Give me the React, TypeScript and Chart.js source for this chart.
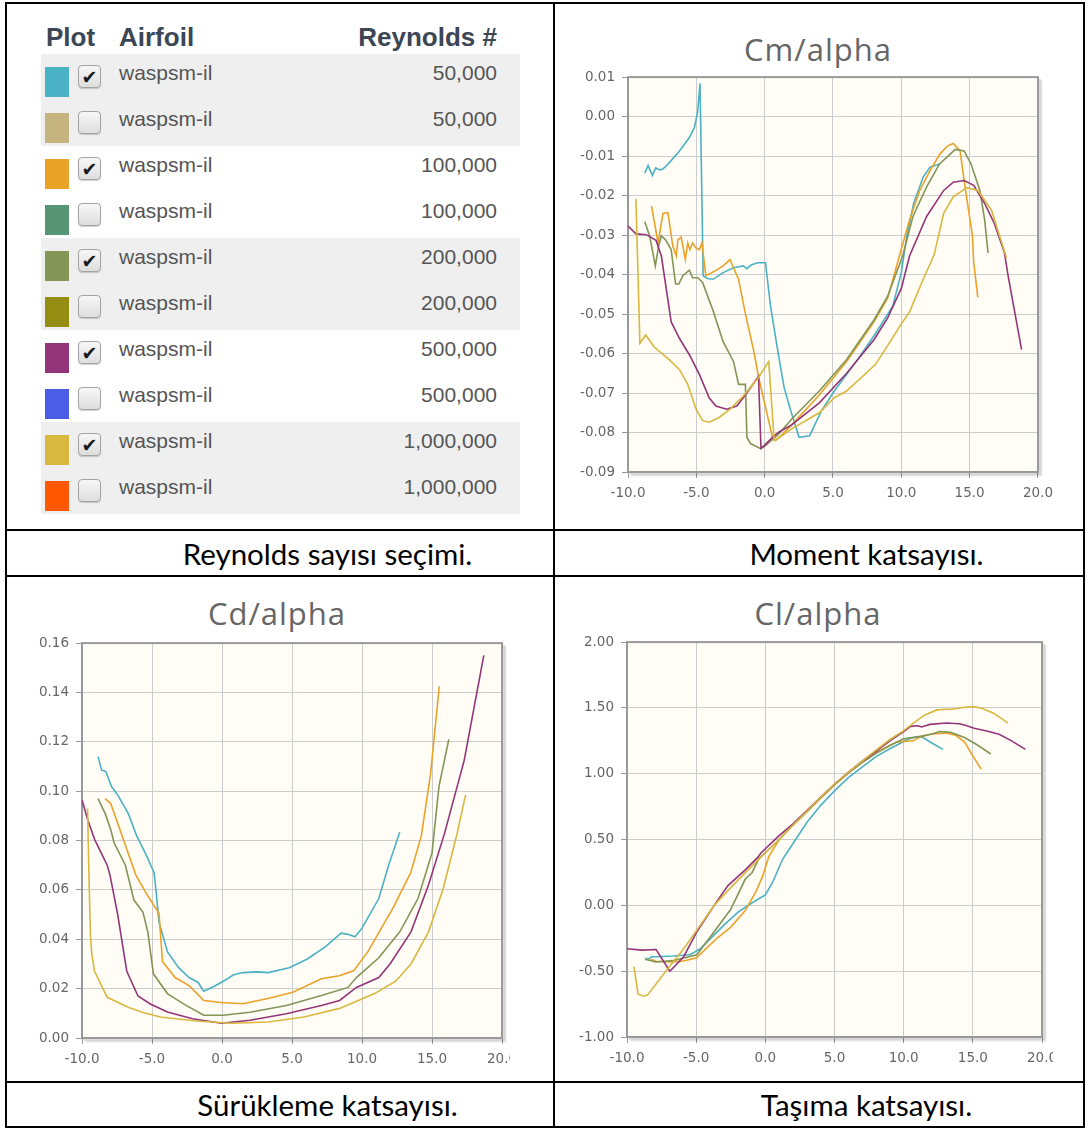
import React, { useEffect, useRef } from 'react';
import { Chart, registerables } from 'chart.js';

Chart.register(...registerables);

// ---------- legend table data ----------
const airfoilNames = ['waspsm-il', 'waspsm-il', 'waspsm-il', 'waspsm-il', 'waspsm-il', 'waspsm-il', 'waspsm-il', 'waspsm-il', 'waspsm-il', 'waspsm-il'];
const reynoldsLabels = ['50,000', '50,000', '100,000', '100,000', '200,000', '200,000', '500,000', '500,000', '1,000,000', '1,000,000'];
const legendColors = ['#4bb2c5', '#c5b47f', '#eaa228', '#579575', '#839557', '#958c12', '#953579', '#4b5de4', '#d8b83f', '#ff5800'];
const plotted = [true, false, true, false, true, false, true, false, true, false];

// ---------- x axis ticks ----------
const alphaMin = -10;
const alphaMax = 20;
const alphaStep = 5;

// ---------- Cm / alpha ----------
const cmRe50k: [number, number][] = [[-8.77, -0.0143], [-8.53, -0.0124], [-8.21, -0.0149], [-7.97, -0.013], [-7.68, -0.0135], [-7.44, -0.0133], [-6.96, -0.0116], [-6.23, -0.0087], [-5.51, -0.0053], [-5.14, -0.0028], [-4.9, 0.0013], [-4.73, 0.0084], [-4.5, -0.0403], [-4.2, -0.041], [-3.77, -0.0412], [-3.04, -0.0395], [-2.28, -0.0383], [-1.56, -0.0378], [-1.3, -0.0385], [-1.0, -0.0376], [-0.5, -0.037], [0.06, -0.037], [0.43, -0.048], [0.93, -0.0587], [1.43, -0.0687], [1.91, -0.0745], [2.52, -0.0812], [3.29, -0.0808], [4.15, -0.0745], [5.1, -0.0695], [6.87, -0.0612], [8.1, -0.055], [9.37, -0.048], [10.0, -0.0395], [10.4, -0.0303], [10.9, -0.022], [11.6, -0.0153], [12.1, -0.0128], [12.8, -0.012]];
const cmRe100k: [number, number][] = [[-8.28, -0.0226], [-7.8, -0.032], [-7.44, -0.0245], [-7.08, -0.0243], [-6.72, -0.0328], [-6.47, -0.0353], [-6.35, -0.0312], [-6.11, -0.0305], [-5.8, -0.0362], [-5.63, -0.032], [-5.46, -0.0337], [-5.27, -0.032], [-5.02, -0.0333], [-4.78, -0.0337], [-4.59, -0.032], [-4.3, -0.0403], [-3.6, -0.039], [-3.04, -0.0378], [-2.54, -0.0362], [-1.91, -0.0412], [-1.41, -0.0499], [-0.79, -0.0595], [-0.43, -0.0662], [0.07, -0.0737], [0.57, -0.0812], [0.81, -0.082], [1.2, -0.0808], [2.0, -0.078], [4.0, -0.0705], [6.0, -0.062], [8.0, -0.052], [9.0, -0.046], [9.86, -0.0353], [10.6, -0.0262], [11.35, -0.0187], [12.1, -0.0137], [12.82, -0.0095], [13.4, -0.0074], [13.8, -0.0068], [14.3, -0.0087], [14.7, -0.0187], [15.2, -0.03], [15.3, -0.037], [15.6, -0.0458]];
const cmRe200k: [number, number][] = [[-8.77, -0.0266], [-8.41, -0.0303], [-8.0, -0.0378], [-7.76, -0.0328], [-7.56, -0.0302], [-7.25, -0.0312], [-6.84, -0.0337], [-6.52, -0.0424], [-6.28, -0.0424], [-5.99, -0.0403], [-5.51, -0.0389], [-5.27, -0.0408], [-4.9, -0.0408], [-4.54, -0.042], [-3.77, -0.0492], [-3.04, -0.057], [-2.28, -0.062], [-1.91, -0.0678], [-1.41, -0.0678], [-1.3, -0.0812], [-1.04, -0.0828], [-0.29, -0.0841], [0.0, -0.0835], [0.5, -0.082], [1.0, -0.0805], [2.0, -0.0765], [4.0, -0.0695], [6.0, -0.0615], [8.0, -0.0515], [9.0, -0.0455], [10.1, -0.0353], [10.85, -0.0253], [11.85, -0.0178], [12.8, -0.012], [13.95, -0.0083], [14.6, -0.0087], [15.1, -0.012], [15.75, -0.0187], [16.1, -0.0262], [16.35, -0.0345]];
const cmRe500k: [number, number][] = [[-10.0, -0.0277], [-9.42, -0.0297], [-8.67, -0.0299], [-7.95, -0.0313], [-7.56, -0.0353], [-6.84, -0.052], [-6.23, -0.0562], [-5.51, -0.0603], [-4.78, -0.0653], [-4.06, -0.0712], [-3.57, -0.0733], [-2.79, -0.0741], [-2.04, -0.0733], [-1.56, -0.0712], [-0.45, -0.0658], [-0.27, -0.084], [0.0, -0.0832], [0.5, -0.0815], [1.0, -0.08], [2.0, -0.078], [4.0, -0.0725], [6.0, -0.065], [8.0, -0.0565], [9.0, -0.051], [10.0, -0.0435], [10.6, -0.0353], [11.85, -0.0253], [13.1, -0.0187], [13.8, -0.0166], [14.6, -0.0162], [15.3, -0.0174], [16.1, -0.022], [16.8, -0.027], [17.55, -0.0345], [17.8, -0.04], [18.3, -0.0495], [18.8, -0.059]];
const cmRe1M: [number, number][] = [[-9.42, -0.0208], [-9.13, -0.0574], [-8.7, -0.0553], [-8.1, -0.0583], [-6.96, -0.0616], [-6.23, -0.0641], [-5.63, -0.0678], [-5.02, -0.0741], [-4.54, -0.077], [-4.06, -0.0774], [-3.33, -0.0762], [-2.5, -0.074], [-1.5, -0.0705], [-0.43, -0.066], [0.3, -0.062], [0.7, -0.082], [1.0, -0.0815], [2.0, -0.079], [4.0, -0.075], [5.1, -0.0712], [6.0, -0.0695], [8.1, -0.0628], [9.0, -0.058], [10.0, -0.0525], [10.6, -0.0495], [11.5, -0.042], [12.4, -0.035], [13.1, -0.0245], [13.8, -0.0203], [14.8, -0.018], [15.6, -0.0187], [16.6, -0.0237], [17.7, -0.0358]];
const cmTicks = { min: -0.09, max: 0.01, step: 0.01, digits: 2 };

// ---------- Cd / alpha ----------
const cdRe50k: [number, number][] = [[-8.85, 0.114], [-8.6, 0.1085], [-8.3, 0.108], [-7.9, 0.102], [-7.4, 0.098], [-6.7, 0.091], [-6.1, 0.082], [-5.4, 0.074], [-4.85, 0.067], [-4.7, 0.059], [-4.5, 0.047], [-3.9, 0.035], [-3.1, 0.0285], [-2.35, 0.0245], [-1.7, 0.0225], [-1.3, 0.019], [-0.55, 0.021], [0.1, 0.023], [0.8, 0.0255], [1.5, 0.0265], [2.5, 0.0268], [3.3, 0.0265], [4.8, 0.0285], [6.1, 0.032], [7.4, 0.037], [8.5, 0.0425], [9.0, 0.042], [9.5, 0.041], [10.0, 0.0445], [11.2, 0.0565], [11.9, 0.07], [12.7, 0.0835]];
const cdRe100k: [number, number][] = [[-8.35, 0.097], [-7.95, 0.095], [-7.05, 0.0805], [-6.15, 0.066], [-5.4, 0.0585], [-4.5, 0.0505], [-4.25, 0.031], [-3.35, 0.0245], [-2.35, 0.0212], [-1.3, 0.0152], [-0.04, 0.0144], [1.49, 0.0139], [3.28, 0.016], [5.06, 0.0185], [7.1, 0.024], [8.38, 0.0252], [9.4, 0.0272], [10.42, 0.035], [12.2, 0.0525], [13.48, 0.067], [14.24, 0.082], [14.9, 0.107], [15.52, 0.1425]];
const cdRe200k: [number, number][] = [[-8.85, 0.097], [-8.35, 0.091], [-7.95, 0.0845], [-7.7, 0.079], [-6.9, 0.07], [-6.3, 0.056], [-5.65, 0.051], [-5.3, 0.043], [-4.9, 0.026], [-3.9, 0.018], [-2.6, 0.0133], [-1.3, 0.0092], [0.1, 0.0092], [2.0, 0.0104], [4.6, 0.0132], [7.1, 0.0172], [9.0, 0.0205], [9.6, 0.0245], [11.2, 0.0325], [12.7, 0.043], [14.0, 0.0565], [15.0, 0.075], [15.5, 0.102], [16.2, 0.121]];
const cdRe500k: [number, number][] = [[-10.0, 0.0965], [-9.6, 0.0885], [-9.1, 0.0805], [-8.2, 0.07], [-8.0, 0.066], [-7.45, 0.05], [-6.8, 0.027], [-6.0, 0.017], [-5.15, 0.0139], [-3.9, 0.0105], [-2.1, 0.0078], [-0.05, 0.006], [2.0, 0.0072], [4.6, 0.0098], [7.1, 0.0132], [8.4, 0.0152], [9.6, 0.0205], [11.2, 0.0245], [12.0, 0.03], [13.5, 0.043], [14.75, 0.062], [15.9, 0.083], [17.3, 0.1125], [18.7, 0.155]];
const cdRe1M: [number, number][] = [[-9.6, 0.093], [-9.52, 0.07], [-9.4, 0.042], [-9.3, 0.034], [-9.1, 0.027], [-8.2, 0.0165], [-6.7, 0.0125], [-5.65, 0.0103], [-4.4, 0.0085], [-1.85, 0.0069], [0.7, 0.006], [3.3, 0.0065], [5.85, 0.0085], [8.4, 0.012], [10.9, 0.018], [12.4, 0.023], [13.5, 0.03], [14.75, 0.043], [15.8, 0.0605], [16.8, 0.083], [17.4, 0.0985]];
const cdTicks = { min: 0, max: 0.16, step: 0.02, digits: 2 };

// ---------- Cl / alpha ----------
const clRe50k: [number, number][] = [[-8.66, -0.4], [-8.5, -0.41], [-8.2, -0.39], [-7.9, -0.39], [-6.7, -0.385], [-5.45, -0.375], [-4.7, -0.33], [-3.0, -0.15], [-1.95, -0.05], [-0.95, 0.02], [0.0, 0.08], [0.5, 0.17], [1.25, 0.35], [2.0, 0.47], [2.5, 0.55], [3.0, 0.63], [4.0, 0.76], [5.0, 0.87], [6.0, 0.97], [7.0, 1.05], [8.0, 1.13], [9.0, 1.19], [10.0, 1.245], [10.5, 1.27], [11.0, 1.28], [11.4, 1.275], [12.0, 1.235], [12.85, 1.185]];
const clRe100k: [number, number][] = [[-8.3, -0.41], [-7.9, -0.425], [-7.0, -0.43], [-6.0, -0.425], [-5.0, -0.4], [-4.7, -0.37], [-3.5, -0.25], [-2.5, -0.165], [-1.45, -0.04], [-0.7, 0.1], [-0.2, 0.22], [0.25, 0.37], [1.0, 0.5], [2.0, 0.61], [3.0, 0.715], [4.0, 0.82], [5.0, 0.92], [6.0, 1.01], [7.0, 1.09], [8.0, 1.16], [9.0, 1.215], [9.5, 1.24], [10.0, 1.245], [10.7, 1.25], [11.2, 1.28], [11.9, 1.3], [13.1, 1.31], [13.8, 1.29], [14.4, 1.24], [15.0, 1.135], [15.6, 1.035]];
const clRe200k: [number, number][] = [[-8.7, -0.41], [-7.9, -0.43], [-6.7, -0.42], [-4.95, -0.375], [-3.7, -0.2], [-2.5, -0.03], [-1.45, 0.2], [-0.95, 0.25], [-0.5, 0.35], [0.0, 0.4], [1.0, 0.5], [2.0, 0.61], [3.0, 0.71], [4.0, 0.815], [5.0, 0.915], [6.0, 1.005], [7.0, 1.085], [8.0, 1.155], [9.0, 1.215], [10.0, 1.265], [11.0, 1.28], [12.0, 1.3], [12.6, 1.32], [13.4, 1.315], [14.4, 1.275], [15.3, 1.22], [16.3, 1.15]];
const clRe500k: [number, number][] = [[-10.0, -0.33], [-8.9, -0.34], [-7.9, -0.335], [-6.9, -0.5], [-5.9, -0.39], [-4.95, -0.2], [-3.7, 0.0], [-2.7, 0.15], [-1.45, 0.27], [-0.5, 0.37], [-0.3, 0.4], [0.0, 0.43], [0.5, 0.48], [1.0, 0.53], [2.0, 0.62], [3.0, 0.72], [4.0, 0.82], [5.0, 0.92], [6.0, 1.01], [7.0, 1.095], [8.0, 1.17], [9.0, 1.25], [10.0, 1.32], [10.5, 1.36], [11.0, 1.365], [11.3, 1.355], [11.9, 1.375], [13.1, 1.385], [14.0, 1.38], [14.4, 1.37], [15.1, 1.345], [16.0, 1.325], [16.9, 1.3], [17.8, 1.25], [18.8, 1.185]];
const clRe1M: [number, number][] = [[-9.5, -0.465], [-9.2, -0.675], [-8.8, -0.69], [-8.5, -0.68], [-7.2, -0.5], [-5.9, -0.33], [-4.7, -0.15], [-3.7, 0.0], [-2.5, 0.135], [-1.25, 0.27], [0.0, 0.4], [1.0, 0.5], [2.0, 0.61], [3.0, 0.715], [4.0, 0.82], [5.0, 0.92], [6.0, 1.01], [7.0, 1.095], [8.0, 1.18], [9.0, 1.26], [9.9, 1.32], [10.9, 1.4], [11.5, 1.445], [12.4, 1.485], [13.1, 1.49], [13.5, 1.49], [14.4, 1.505], [15.0, 1.51], [15.6, 1.5], [16.5, 1.46], [17.55, 1.385]];
const clTicks = { min: -1, max: 2, step: 0.5, digits: 2 };

// plotted series colours (checked rows of the table, in draw order)
const plottedColors = ['#4bb2c5', '#eaa228', '#839557', '#953579', '#d8b83f'];

const captions = ['Reynolds sayısı seçimi.', 'Moment katsayısı.', 'Sürükleme katsayısı.', 'Taşıma katsayısı.'];
const chartTitles = ['Cm/alpha', 'Cd/alpha', 'Cl/alpha'];

const tickFont = { family: '"DejaVu Sans", sans-serif', size: 13.5 };

const framePlugin = {
  id: 'jqFrame',
  beforeDraw(chart: any) {
    const { ctx, chartArea: a } = chart;
    ctx.save();
    ctx.fillStyle = '#fffdf6';
    ctx.fillRect(a.left, a.top, a.right - a.left, a.bottom - a.top);
    ctx.restore();
  },
  beforeDatasetsDraw(chart: any) {
    const { ctx, chartArea: a } = chart;
    ctx.save();
    ctx.lineWidth = 3;
    ctx.strokeStyle = 'rgba(0,0,0,0.07)';
    for (let j = 1; j <= 3; j++) {
      const o = 1.5 * j * Math.SQRT1_2;
      ctx.beginPath();
      ctx.moveTo(a.left + o, a.bottom + o);
      ctx.lineTo(a.right + o, a.bottom + o);
      ctx.lineTo(a.right + o, a.top + o);
      ctx.stroke();
    }
    ctx.lineWidth = 2;
    ctx.strokeStyle = '#999999';
    ctx.strokeRect(a.left, a.top, a.right - a.left, a.bottom - a.top);
    ctx.restore();
  },
};

type ChartProps = {
  series: [number, number][][];
  ticks: { min: number; max: number; step: number; digits: number };
  left: number;
  top: number;
  width: number;
  height: number;
  yAxisWidth: number;
  padRight: number;
};

function PolarChart({ series, ticks, left, top, width, height, yAxisWidth, padRight }: ChartProps) {
  const ref = useRef<HTMLCanvasElement>(null);
  useEffect(() => {
    if (!ref.current) return;
    const datasets = series
      .map((pts, i) => ({
        data: pts.map(([x, y]) => ({ x, y })),
        borderColor: plottedColors[i],
        borderWidth: 1.6,
        pointRadius: 0,
        fill: false,
        tension: 0,
      }))
      .reverse();
    const chart = new Chart(ref.current, {
      type: 'line',
      data: { datasets },
      options: {
        responsive: false,
        animation: false,
        events: [],
        layout: { padding: { top: 10, right: padRight, left: 0, bottom: 0 } },
        plugins: { legend: { display: false }, tooltip: { enabled: false }, title: { display: false } },
        scales: {
          x: {
            type: 'linear',
            min: alphaMin,
            max: alphaMax,
            afterFit: (s: any) => { s.height = 40; },
            ticks: {
              stepSize: alphaStep,
              autoSkip: false,
              maxRotation: 0,
              padding: 7,
              color: '#666',
              font: tickFont,
              callback: (v: any) => Number(v).toFixed(1),
            },
            grid: { color: '#cccccc', lineWidth: 1, tickLength: 6, tickColor: '#999', drawTicks: true },
            border: { display: false },
          },
          y: {
            type: 'linear',
            min: ticks.min,
            max: ticks.max,
            afterFit: (s: any) => { s.width = yAxisWidth; },
            ticks: {
              stepSize: ticks.step,
              autoSkip: false,
              padding: 7,
              color: '#666',
              font: tickFont,
              callback: (v: any) => {
                const n = Math.abs(Number(v)) < 1e-9 ? 0 : Number(v);
                return n.toFixed(ticks.digits);
              },
            },
            grid: { color: '#cccccc', lineWidth: 1, tickLength: 6, tickColor: '#999', drawTicks: true },
            border: { display: false },
          },
        },
      } as any,
      plugins: [framePlugin],
    });
    return () => chart.destroy();
  }, []);
  return (
    <canvas
      ref={ref}
      width={width}
      height={height}
      style={{ position: 'absolute', left, top, width, height, display: 'block' }}
    />
  );
}

function Checkbox({ checked, left, top }: { checked: boolean; left: number; top: number }) {
  return (
    <div
      style={{
        position: 'absolute', left, top, width: 23, height: 23, boxSizing: 'border-box',
        border: '1px solid #a3a3a3', borderRadius: 4,
        background: 'linear-gradient(#f7f7f7, #dedede)',
        boxShadow: '0 1px 1px rgba(0,0,0,0.18)',
        textAlign: 'center', lineHeight: '21px',
        font: '19px "DejaVu Sans", sans-serif', color: '#1a1a1a',
      }}
    >
      {checked ? '\u2714' : ''}
    </div>
  );
}

const LINE = '#000';
function Cell({ left, top, width, height }: { left: number; top: number; width: number; height: number }) {
  return (
    <div style={{ position: 'absolute', left, top, width, height, boxSizing: 'border-box', border: `2px solid ${LINE}` }} />
  );
}

export default function App() {
  const headerFont = 'bold 26px "Liberation Sans", Arial, sans-serif';
  const rowFont = '21px "Liberation Sans", Arial, sans-serif';
  const captionStyle = (left: number, top: number, width: number, height: number): React.CSSProperties => ({
    position: 'absolute', left, top, width, height, boxSizing: 'border-box',
    display: 'flex', alignItems: 'center', justifyContent: 'center', paddingLeft: 95,
    font: '29.5px Lato, "Open Sans", sans-serif', color: '#000',
  });
  const titleStyle = (cx: number, top: number): React.CSSProperties => ({
    position: 'absolute', left: cx - 150, top, width: 300, textAlign: 'center',
    font: '31px "Open Sans", sans-serif', letterSpacing: '1px', lineHeight: '36px', color: '#666',
  });
  return (
    <div style={{ position: 'relative', width: 1088, height: 1130, background: '#fff', overflow: 'hidden' }}>
      <style>{'body{margin:0;}'}</style>

      {/* table grid */}
      <Cell left={5} top={2} width={550} height={529} />
      <Cell left={553} top={2} width={532} height={529} />
      <Cell left={5} top={529} width={550} height={48} />
      <Cell left={553} top={529} width={532} height={48} />
      <Cell left={5} top={575} width={550} height={508} />
      <Cell left={553} top={575} width={532} height={508} />
      <Cell left={5} top={1081} width={550} height={47} />
      <Cell left={553} top={1081} width={532} height={47} />

      {/* legend table */}
      <div style={{ position: 'absolute', left: 46, top: 22, font: headerFont, lineHeight: '30px', color: '#3c4655' }}>Plot</div>
      <div style={{ position: 'absolute', left: 119, top: 22, font: headerFont, lineHeight: '30px', color: '#3c4655' }}>Airfoil</div>
      <div style={{ position: 'absolute', left: 297, width: 200, textAlign: 'right', top: 22, font: headerFont, lineHeight: '30px', color: '#3c4655' }}>Reynolds #</div>
      {reynoldsLabels.map((re, i) => {
        const top = 54 + 46 * i;
        const shaded = Math.floor(i / 2) % 2 === 0;
        return (
          <div key={i} style={{ position: 'absolute', left: 41, top, width: 479, height: 46, background: shaded ? '#efefef' : 'transparent' }}>
            <div style={{ position: 'absolute', left: 4, top: 13, width: 24, height: 30, background: legendColors[i] }} />
            <Checkbox checked={plotted[i]} left={37} top={11} />
            <div style={{ position: 'absolute', left: 78, top: 7, font: rowFont, lineHeight: '24px', color: '#555' }}>{airfoilNames[i]}</div>
            <div style={{ position: 'absolute', right: 23, top: 7, font: rowFont, lineHeight: '24px', color: '#555', textAlign: 'right' }}>{re}</div>
          </div>
        );
      })}

      {/* Cm chart */}
      <div style={titleStyle(818, 31)}>{chartTitles[0]}</div>
      <PolarChart series={[cmRe50k, cmRe100k, cmRe200k, cmRe500k, cmRe1M]} ticks={cmTicks}
        left={560} top={62} width={500} height={450} yAxisWidth={68} padRight={18} />

      {/* Cd chart (clipped on the right like the screenshot) */}
      <div style={titleStyle(277, 595)}>{chartTitles[1]}</div>
      <div style={{ position: 'absolute', left: 6, top: 577, width: 504, height: 503, overflow: 'hidden' }}>
        <PolarChart series={[cdRe50k, cdRe100k, cdRe200k, cdRe500k, cdRe1M]} ticks={cdTicks}
          left={4} top={51} width={520} height={450} yAxisWidth={72} padRight={28} />
      </div>

      {/* Cl chart */}
      <div style={titleStyle(818, 595)}>{chartTitles[2]}</div>
      <div style={{ position: 'absolute', left: 556, top: 577, width: 497, height: 503, overflow: 'hidden' }}>
        <PolarChart series={[clRe50k, clRe100k, clRe200k, clRe500k, clRe1M]} ticks={clTicks}
          left={4} top={50} width={520} height={450} yAxisWidth={67} padRight={38} />
      </div>

      {/* captions */}
      <div style={captionStyle(5, 529, 550, 48)}>{captions[0]}</div>
      <div style={captionStyle(553, 529, 532, 48)}>{captions[1]}</div>
      <div style={captionStyle(5, 1081, 550, 47)}>{captions[2]}</div>
      <div style={captionStyle(553, 1081, 532, 47)}>{captions[3]}</div>
    </div>
  );
}
